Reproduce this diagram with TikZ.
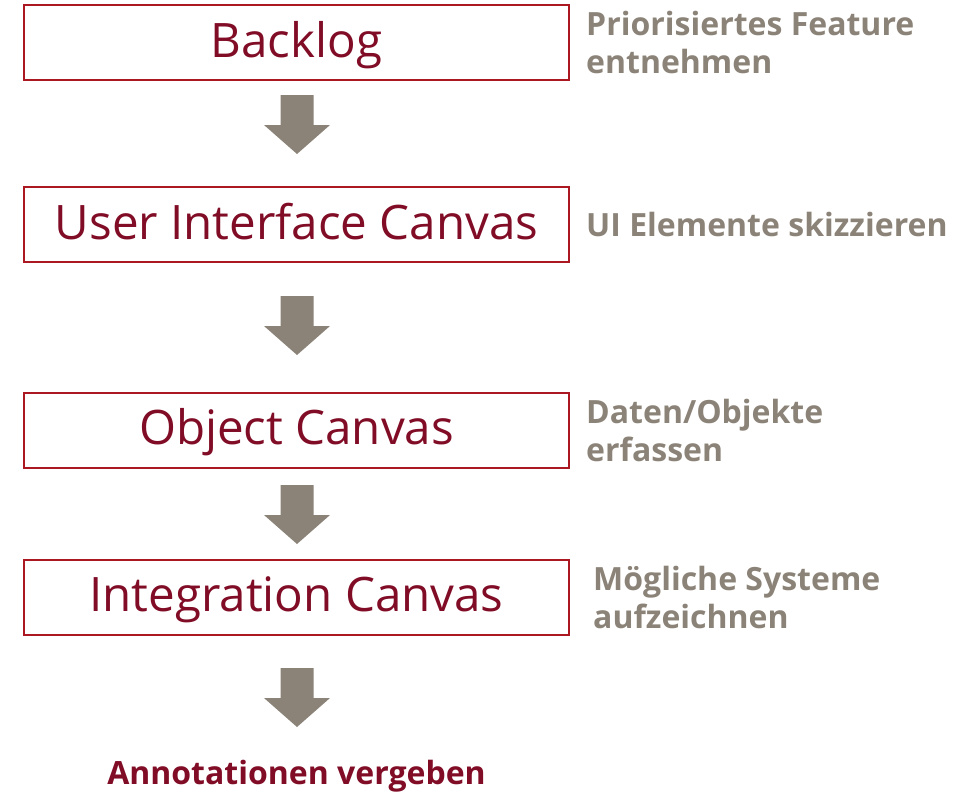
\documentclass[tikz,border=0pt]{standalone}
\usepackage{fontspec}
\setmainfont{Open Sans}
\definecolor{boxred}{RGB}{172,24,34}
\definecolor{textred}{RGB}{128,12,38}
\definecolor{warmgray}{RGB}{139,131,120}
\begin{document}
\begin{tikzpicture}[x=1pt,y=-1pt,
  stepbox/.style={draw=boxred,line width=2pt,rectangle,minimum width=545pt,minimum height=75pt,
    inner sep=0pt,text=textred,font=\fontsize{47.5}{56}\selectfont,text height=41pt,text depth=12pt},
  sidelabel/.style={anchor=base west,text=warmgray,align=left,inner sep=0pt,
    font=\fontsize{32}{38}\bfseries\selectfont},
  blockarrow/.pic={\fill[warmgray] (-16.5,0) -- (16.5,0) -- (16.5,30) -- (33,30) -- (0,59) -- (-33,30) -- (-16.5,30) -- cycle;}
]
\useasboundingbox (0,0) rectangle (976,793);
\node[stepbox] (b1) at (296.5,42.5) {Backlog};
\node[stepbox] (b2) at (296.5,224.5) {User Interface Canvas};
\node[stepbox] (b3) at (296.5,430) {Object Canvas};
\node[stepbox] (b4) at (296.5,597) {Integration Canvas};
\node[anchor=base,inner sep=0pt,text=textred,font=\fontsize{32}{38}\bfseries\selectfont] (fin) at (296.5,784) {Annotationen vergeben};

\coordinate (a1) at (297,95);
\coordinate (a2) at (297,296);
\coordinate (a3) at (297,485);
\coordinate (a4) at (297,668);
\pic at (a1) {blockarrow};
\pic at (a2) {blockarrow};
\pic at (a3) {blockarrow};
\pic at (a4) {blockarrow};

\node[sidelabel] (l1) at (586,73) {Priorisiertes Feature\\entnehmen};
\node[sidelabel] (l2) at (586,236) {UI Elemente skizzieren};
\node[sidelabel] (l3) at (586,461) {Daten/Objekte\\erfassen};
\node[sidelabel] (l4) at (593,628) {Mögliche Systeme\\aufzeichnen};
\end{tikzpicture}
\end{document}
